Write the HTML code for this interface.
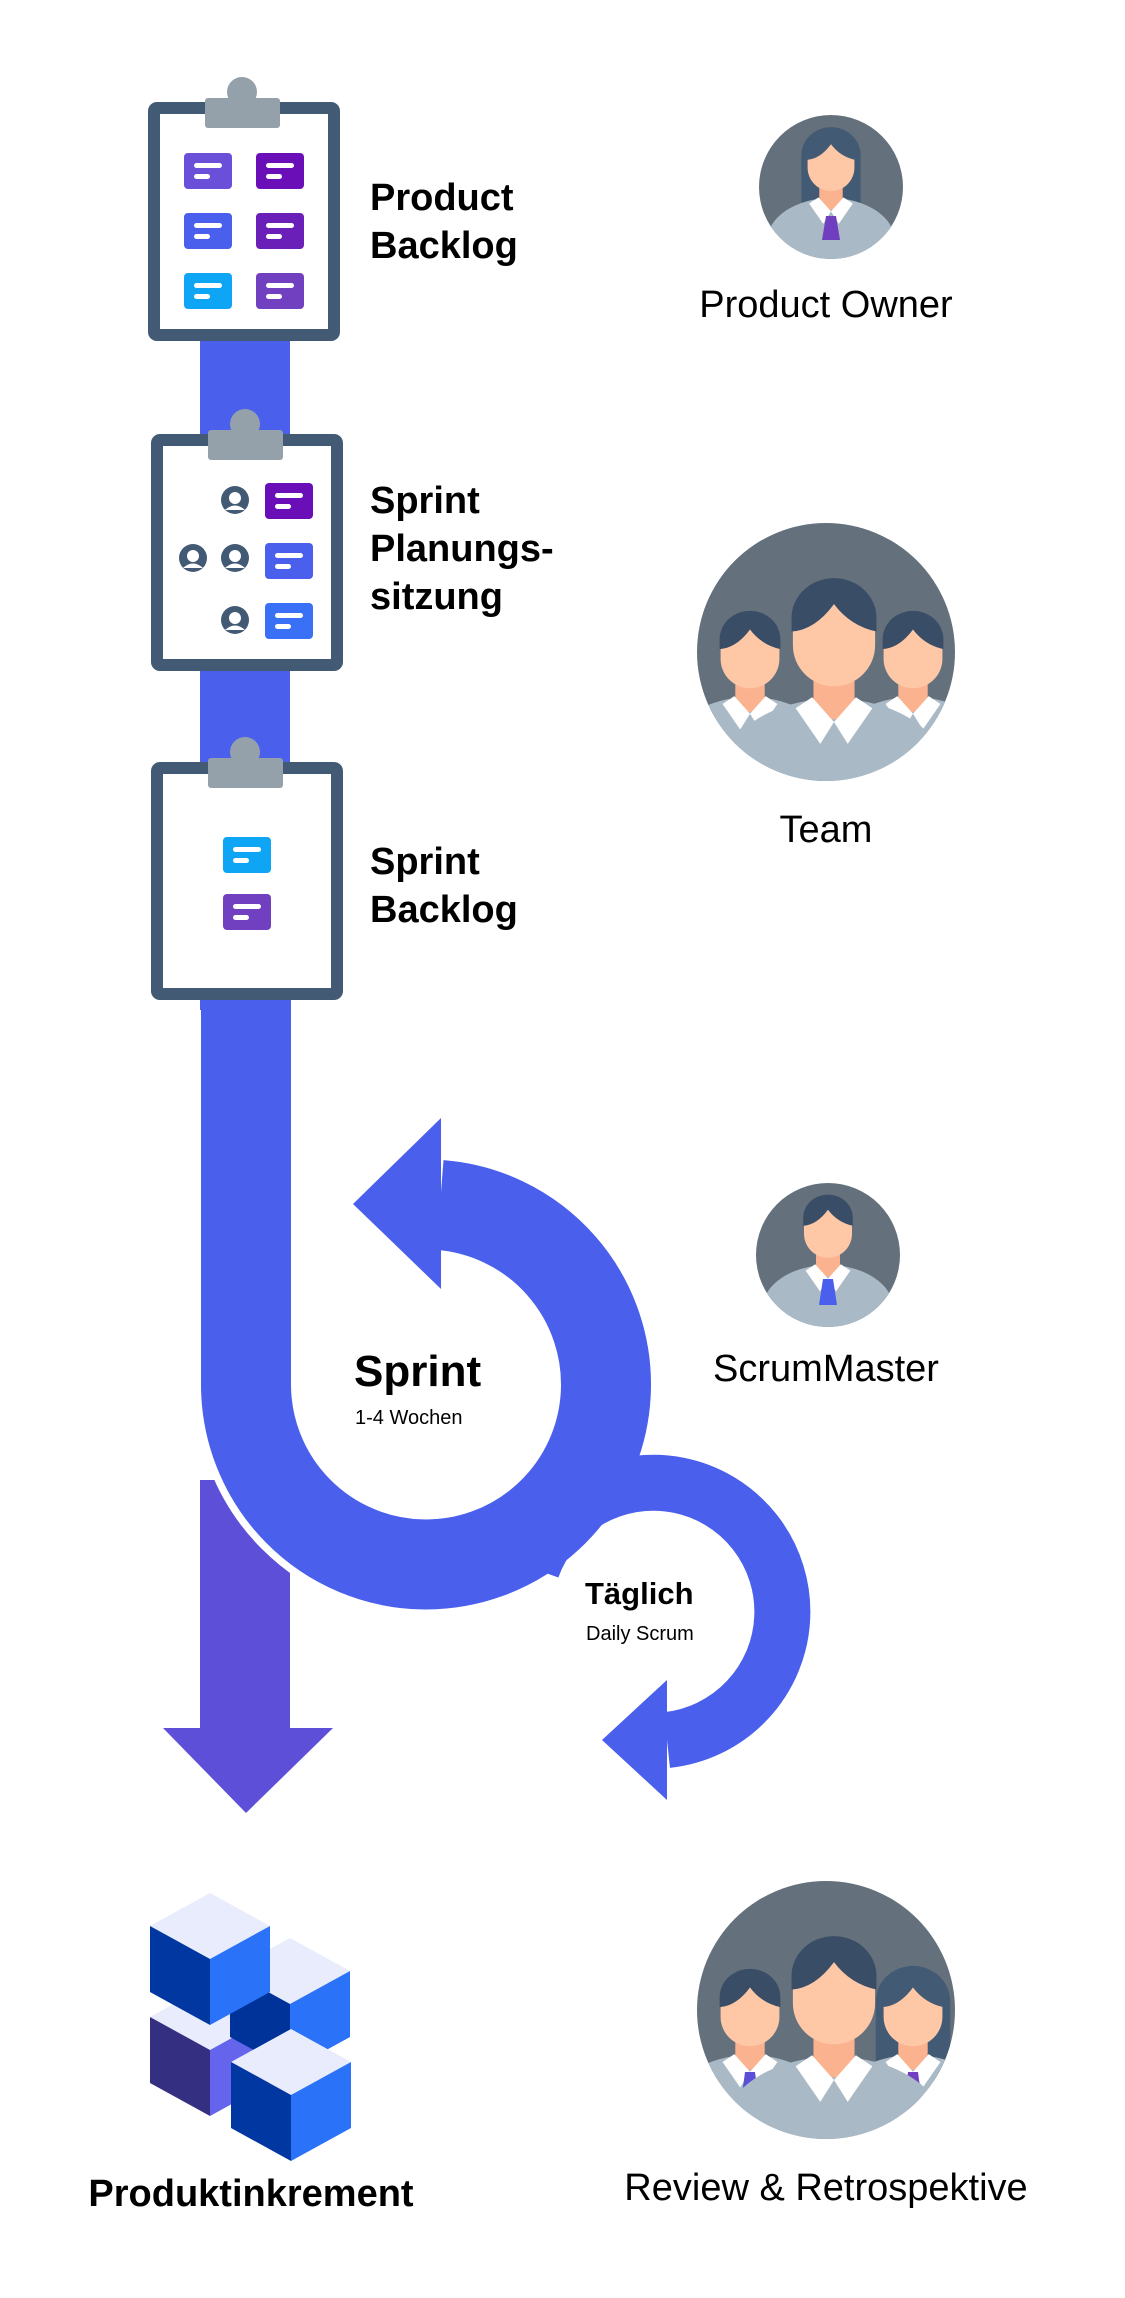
<!DOCTYPE html>
<html><head><meta charset="utf-8"><style>
html,body{margin:0;padding:0;background:#fff;}
svg{display:block;}
text{font-family:"Liberation Sans",sans-serif;}
</style></head><body>
<svg width="1125" height="2298" viewBox="0 0 1125 2298" xmlns="http://www.w3.org/2000/svg">
<defs>
  <g id="man">
    <ellipse cx="0" cy="100" rx="82" ry="55" fill="#a9b9c5"/>
    <rect x="-15" y="20" width="30" height="40" fill="#fbb28f"/>
    <rect x="-30" y="-40" width="60" height="76" rx="30" fill="#fec8a6"/>
    <path d="M-31,-4 V-14 A31,29 0 0 1 31,-14 V-4 Q12,-8 0,-24 Q-14,-5 -31,-4 Z" fill="#3a4d66"/>
    <polygon points="-16,44 0,62 -10,78 -28,52" fill="#fff"/>
    <polygon points="16,44 0,62 10,78 28,52" fill="#fff"/>
  </g>
  <g id="woman">
    <path d="M-38,70 V-10 A38,36 0 0 1 38,-10 V70 Z" fill="#435a74"/>
    <ellipse cx="0" cy="100" rx="82" ry="55" fill="#a9b9c5"/>
    <rect x="-15" y="20" width="30" height="40" fill="#fbb28f"/>
    <rect x="-30" y="-40" width="60" height="76" rx="30" fill="#fec8a6"/>
    <path d="M-31,-4 V-14 A31,29 0 0 1 31,-14 V-4 Q12,-8 0,-24 Q-14,-5 -31,-4 Z" fill="#435a74"/>
    <polygon points="-16,44 0,62 -10,78 -28,52" fill="#fff"/>
    <polygon points="16,44 0,62 10,78 28,52" fill="#fff"/>
  </g>
  <g id="card">
    <rect x="0" y="0" width="48" height="36" rx="4"/>
    <rect x="10" y="10" width="28" height="5" rx="2.5" fill="#fff"/>
    <rect x="10" y="21" width="16" height="5" rx="2.5" fill="#fff"/>
  </g>
  <g id="mini">
    <circle cx="0" cy="0" r="14" fill="#435a74"/>
    <circle cx="0" cy="-2" r="6" fill="#fff"/>
    <path d="M-10,10 Q0,1 10,10 Z" fill="#fff"/>
  </g>
  <clipPath id="cPO"><circle cx="831" cy="187" r="72"/></clipPath>
  <clipPath id="cTeam"><circle cx="826" cy="652" r="129"/></clipPath>
  <clipPath id="cSM"><circle cx="828" cy="1255" r="72"/></clipPath>
  <clipPath id="cRev"><circle cx="826" cy="2010" r="129"/></clipPath>
</defs>

<rect x="200" y="330" width="90" height="680" fill="#4a5fec"/>

<rect x="200" y="1480" width="90" height="250" fill="#5e4fd8"/>
<polygon points="163,1728 333,1728 246,1813" fill="#5e4fd8"/>

<path d="M246,1385 A180,180 0 1 0 426,1205" fill="none" stroke="#fff" stroke-width="104"/>
<path d="M246,1000 V1385 A180,180 0 1 0 440,1205" fill="none" stroke="#4a5fec" stroke-width="90"/>
<polygon points="441,1118 353,1204 441,1289" fill="#4a5fec"/>

<path d="M532,1568 A129,129 0 1 1 667,1740" fill="none" stroke="#4a5fec" stroke-width="56"/>
<polygon points="667,1680 602,1740 667,1800" fill="#4a5fec"/>

<rect x="154" y="108" width="180" height="227" rx="3" fill="#fff" stroke="#435a74" stroke-width="12"/>
<circle cx="242" cy="92" r="15" fill="#94a0aa"/>
<rect x="205" y="98" width="75" height="30" rx="3" fill="#94a0aa"/>
<use href="#card" x="184" y="153" fill="#6a4fd8"/>
<use href="#card" x="256" y="153" fill="#6a0fb8"/>
<use href="#card" x="184" y="213" fill="#4a5fec"/>
<use href="#card" x="256" y="213" fill="#6a1fb8"/>
<use href="#card" x="184" y="273" fill="#0ea5f5"/>
<use href="#card" x="256" y="273" fill="#7040c0"/>

<rect x="157" y="440" width="180" height="225" rx="3" fill="#fff" stroke="#435a74" stroke-width="12"/>
<circle cx="245" cy="424" r="15" fill="#94a0aa"/>
<rect x="208" y="430" width="75" height="30" rx="3" fill="#94a0aa"/>
<use href="#card" x="265" y="483" fill="#6a0fb8"/>
<use href="#card" x="265" y="543" fill="#4a5fec"/>
<use href="#card" x="265" y="603" fill="#3a70f5"/>
<use href="#mini" x="235" y="500"/>
<use href="#mini" x="193" y="558"/>
<use href="#mini" x="235" y="558"/>
<use href="#mini" x="235" y="620"/>

<rect x="157" y="768" width="180" height="226" rx="3" fill="#fff" stroke="#435a74" stroke-width="12"/>
<circle cx="245" cy="752" r="15" fill="#94a0aa"/>
<rect x="208" y="758" width="75" height="30" rx="3" fill="#94a0aa"/>
<use href="#card" x="223" y="837" fill="#0ea5f5"/>
<use href="#card" x="223" y="894" fill="#7040c0"/>

<g font-weight="bold" font-size="38" fill="#000">
<text x="370" y="210">Product</text>
<text x="370" y="258">Backlog</text>
<text x="370" y="513">Sprint</text>
<text x="370" y="561">Planungs-</text>
<text x="370" y="609">sitzung</text>
<text x="370" y="874">Sprint</text>
<text x="370" y="922">Backlog</text>
</g>

<text x="354" y="1386" font-weight="bold" font-size="44">Sprint</text>
<text x="355" y="1424" font-size="20">1-4 Wochen</text>
<text x="585" y="1604" font-weight="bold" font-size="31">Täglich</text>
<text x="586" y="1640" font-size="20">Daily Scrum</text>

<circle cx="831" cy="187" r="72" fill="#64717c"/>
<g clip-path="url(#cPO)">
  <use href="#woman" transform="translate(831,163) scale(0.78)"/>
  <polygon points="826,216 836,216 840,240 822,240" fill="#6f3fc0"/>
</g>
<text x="826" y="317" font-size="38" text-anchor="middle">Product Owner</text>

<circle cx="826" cy="652" r="129" fill="#64717c"/>
<g clip-path="url(#cTeam)">
  <use href="#man" transform="translate(750,653) scale(0.98)"/>
  <use href="#man" transform="translate(913,653) scale(0.98)"/>
  <use href="#man" transform="translate(834,637) scale(1.37)"/>
</g>
<text x="826" y="842" font-size="38" text-anchor="middle">Team</text>

<circle cx="828" cy="1255" r="72" fill="#64717c"/>
<g clip-path="url(#cSM)">
  <use href="#man" transform="translate(828,1229) scale(0.8)"/>
  <polygon points="823,1279 833,1279 837,1305 819,1305" fill="#4a5fec"/>
</g>
<text x="826" y="1381" font-size="38" text-anchor="middle">ScrumMaster</text>

<circle cx="826" cy="2010" r="129" fill="#64717c"/>
<g clip-path="url(#cRev)">
  <use href="#man" transform="translate(750,2011) scale(0.98)"/>
  <polygon points="745,2072 755,2072 760,2110 740,2110" fill="#5b4fd8"/>
  <use href="#woman" transform="translate(913,2011) scale(0.98)"/>
  <polygon points="908,2072 918,2072 923,2110 903,2110" fill="#7040c0"/>
  <use href="#man" transform="translate(834,1995) scale(1.37)"/>
</g>
<text x="826" y="2200" font-size="38" text-anchor="middle">Review &amp; Retrospektive</text>

<g>
  <polygon points="150,2017 210,1984 270,2017 210,2050" fill="#e8ecfc"/>
  <polygon points="150,2017 210,2050 210,2116 150,2083" fill="#352f82"/>
  <polygon points="210,2050 270,2017 270,2083 210,2116" fill="#6464ec"/>
  <polygon points="230,1971 290,1938 350,1971 290,2004" fill="#e8ecfc"/>
  <polygon points="230,1971 290,2004 290,2070 230,2037" fill="#003399"/>
  <polygon points="290,2004 350,1971 350,2037 290,2070" fill="#2a72f8"/>
  <polygon points="150,1926 210,1893 270,1926 210,1959" fill="#e8ecfc"/>
  <polygon points="150,1926 210,1959 210,2025 150,1992" fill="#0037a0"/>
  <polygon points="210,1959 270,1926 270,1992 210,2025" fill="#2a72f8"/>
  <polygon points="231,2062 291,2029 351,2062 291,2095" fill="#e8ecfc"/>
  <polygon points="231,2062 291,2095 291,2161 231,2128" fill="#0037a0"/>
  <polygon points="291,2095 351,2062 351,2128 291,2161" fill="#2a72f8"/>
</g>
<text x="251" y="2206" font-weight="bold" font-size="38" text-anchor="middle">Produktinkrement</text>
</svg>
</body></html>
